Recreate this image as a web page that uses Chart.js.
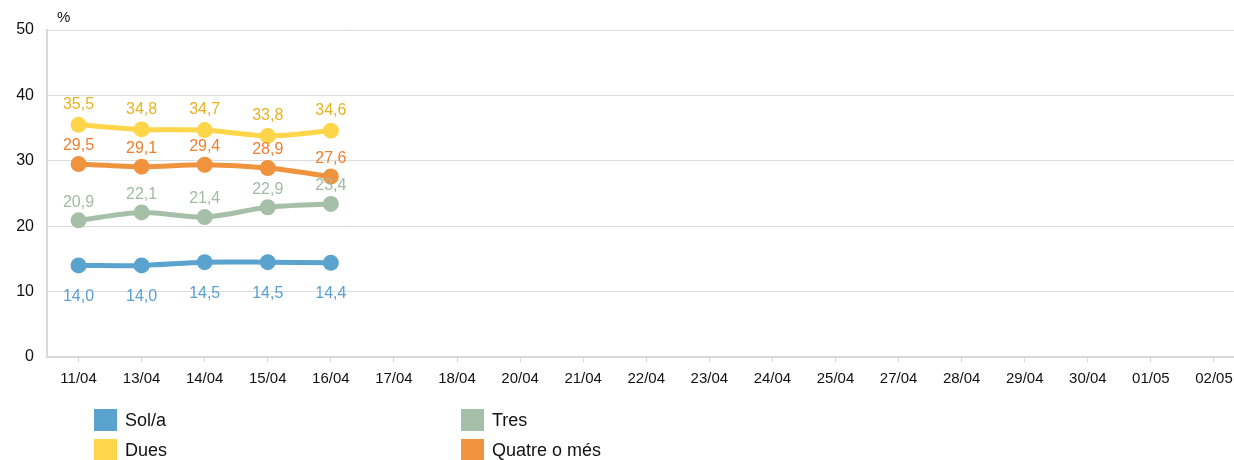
<!DOCTYPE html>
<html>
<head>
<meta charset="utf-8">
<script src="https://cdn.jsdelivr.net/npm/chart.js@4"></script>
<style>
  html, body { margin:0; padding:0; background:#fff; overflow:hidden; width:1234px; height:460px; }
  #wrap { position:absolute; left:0; top:0; width:1256px; height:390px; }
  #legend { position:absolute; left:0; top:0; width:1234px; height:460px; pointer-events:none;
            font-family:'Liberation Sans', Arial, sans-serif; font-size:18px; color:#111; }
  .li { position:absolute; display:flex; align-items:center; height:22px; }
  .sw { width:23px; height:22px; margin-right:8px; }
</style>
</head>
<body>
<div id="wrap"><canvas id="c"></canvas></div>
<div id="legend"></div>
<script>
const categories = ['11/04','13/04','14/04','15/04','16/04','17/04','18/04','20/04','21/04','22/04','23/04','24/04','25/04','27/04','28/04','29/04','30/04','01/05','02/05'];
const seriesNames = ['Sol/a','Dues','Tres','Quatre o més'];
const solaValues   = [14.0, 14.0, 14.5, 14.5, 14.4, null,null,null,null,null,null,null,null,null,null,null,null,null,null];
const duesValues   = [35.5, 34.8, 34.7, 33.8, 34.6, null,null,null,null,null,null,null,null,null,null,null,null,null,null];
const tresValues   = [20.9, 22.1, 21.4, 22.9, 23.4, null,null,null,null,null,null,null,null,null,null,null,null,null,null];
const quatreValues = [29.5, 29.1, 29.4, 28.9, 27.6, null,null,null,null,null,null,null,null,null,null,null,null,null,null];
const yTicks = [0, 10, 20, 30, 40, 50];

const lineColors  = ['#5ba3cf', '#ffd54a', '#a6bfa8', '#f0933e'];
const labelColors = ['#5a9fd2', '#e8b320', '#a2bba3', '#f07f2e'];
const labelOffsets = [31, -20, -18, -18];

Chart.defaults.font.family = "'Liberation Sans', Arial, sans-serif";
Chart.defaults.font.size = 15;
Chart.defaults.color = '#111';

const valueLabels = {
  id: 'valueLabels',
  afterDatasetsDraw(chart) {
    const ctx = chart.ctx;
    ctx.save();
    ctx.font = "16px 'Liberation Sans', Arial, sans-serif";
    ctx.textAlign = 'center';
    ctx.textBaseline = 'middle';
    chart.data.datasets.forEach((ds, i) => {
      const meta = chart.getDatasetMeta(i);
      meta.data.forEach((pt, j) => {
        const v = ds.data[j];
        if (v === null || v === undefined) return;
        ctx.fillStyle = ds.labelColor;
        ctx.fillText(v.toFixed(1).replace('.', ','), pt.x, pt.y + ds.labelOffset);
      });
    });
    ctx.fillStyle = '#111';
    ctx.textAlign = 'left';
    ctx.font = "15px 'Liberation Sans', Arial, sans-serif";
    ctx.fillText('%', chart.chartArea.left + 10, chart.chartArea.top - 12);
    ctx.restore();
  }
};

const seriesValues = [solaValues, duesValues, tresValues, quatreValues];
const datasets = seriesNames.map((name, i) => ({
  label: name,
  data: seriesValues[i],
  borderColor: lineColors[i],
  backgroundColor: lineColors[i],
  pointBackgroundColor: lineColors[i],
  pointBorderColor: lineColors[i],
  borderWidth: 5,
  pointRadius: 5.5,
  pointHoverRadius: 5.5,
  tension: 0.3,
  labelColor: labelColors[i],
  labelOffset: labelOffsets[i]
}));

new Chart(document.getElementById('c'), {
  type: 'line',
  data: { labels: categories, datasets },
  options: {
    responsive: true,
    maintainAspectRatio: false,
    animation: false,
    layout: { padding: { top: 30, left: 0, right: 0, bottom: 0 } },
    plugins: { legend: { display: false }, tooltip: { enabled: false } },
    scales: {
      x: {
        offset: true,
        grid: { offset: false, drawOnChartArea: false, drawTicks: true, tickLength: 5, color: '#d9d9d9' },
        border: { color: '#d9d9d9', width: 2 },
        ticks: { padding: 8, maxRotation: 0, autoSkip: false, color: '#111', font: { size: 15 } },
        afterFit(scale) { scale.height = 33; }
      },
      y: {
        min: 0, max: 50,
        afterBuildTicks(scale) { scale.ticks = yTicks.map(v => ({ value: v })); },
        grid: { color: '#dcdcdc', drawTicks: false, lineWidth: 1 },
        border: { color: '#d9d9d9', width: 2 },
        ticks: { padding: 13, color: '#111', font: { size: 16 } },
        afterFit(scale) { scale.width = 47; }
      }
    }
  },
  plugins: [valueLabels]
});

const legend = document.getElementById('legend');
const legendPos = [[94, 409], [94, 439], [461, 409], [461, 439]];
seriesNames.forEach((name, k) => {
  const d = document.createElement('div');
  d.className = 'li';
  d.style.left = legendPos[k][0] + 'px';
  d.style.top = legendPos[k][1] + 'px';
  const sw = document.createElement('span');
  sw.className = 'sw';
  sw.style.background = lineColors[k];
  const tx = document.createElement('span');
  tx.textContent = name;
  d.appendChild(sw);
  d.appendChild(tx);
  legend.appendChild(d);
});
</script>
</body>
</html>
